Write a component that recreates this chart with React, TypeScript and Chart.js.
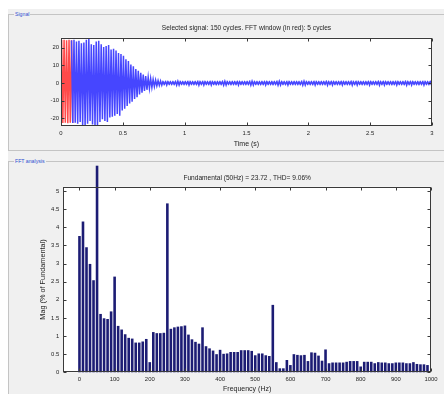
import React, { useEffect, useRef } from 'react';
import { Chart, registerables } from 'chart.js';

Chart.register(...registerables);

const SANS = "'Liberation Sans', Arial, sans-serif";

// ---------- text ----------
const signalPanelLabel = 'Signal';
const fftPanelLabel = 'FFT analysis';
const signalTitle = 'Selected signal: 150 cycles. FFT window (in red): 5 cycles';
const timeAxisTitle = 'Time (s)';
const fftTitle = 'Fundamental (50Hz) = 23.72 , THD= 9.06%';
const freqAxisTitle = 'Frequency (Hz)';
const magAxisTitle = 'Mag (% of Fundamental)';

// ---------- signal (per 50 Hz cycle: positive peak, negative peak) ----------
const cycleSeconds = 0.02;
const windowCycles = 5;
const upperPeaks = [
  24.4, 24.6, 24.3, 24.5, 24.2,
  24.5, 23.5, 24.0, 22.5, 23.0, 24.5, 25.0, 22.0, 21.5, 23.5,
  24.0, 22.0, 20.5, 21.0, 21.5, 19.0, 19.5, 18.5, 17.0, 16.5,
  15.5, 13.5, 12.5, 10.5, 9.5, 8.0, 7.0, 5.8, 4.8, 4.0,
  3.2, 2.6, 2.1, 1.7, 1.4, 1.2,
  1.1, 1.1, 1.0, 1.1, 1.1, 1.2, 1.1, 1.0, 1.1, 1.1,
  1.1, 1.0, 1.1, 1.1, 1.2, 1.1, 1.1, 1.0, 1.1, 1.1,
  1.0, 1.1, 1.1, 1.1, 1.2, 1.1, 1.0, 1.1, 1.1, 1.1,
  1.1, 1.0, 1.1, 1.1, 1.1, 1.2, 1.1, 1.0, 1.1, 1.1,
  1.1, 1.1, 1.0, 1.1, 1.1, 1.1, 1.2, 1.1, 1.0, 1.1,
  1.1, 1.0, 1.1, 1.1, 1.1, 1.1, 1.2, 1.1, 1.0, 1.1,
  1.1, 1.1, 1.0, 1.1, 1.1, 1.1, 1.2, 1.1, 1.1, 1.0,
  1.1, 1.1, 1.1, 1.0, 1.1, 1.1, 1.2, 1.1, 1.1, 1.0,
  1.1, 1.1, 1.1, 1.1, 1.0, 1.1, 1.1, 1.2, 1.1, 1.1,
  1.0, 1.1, 1.1, 1.1, 1.1, 1.0, 1.1, 1.1, 1.2, 1.1,
  1.1, 1.0, 1.1, 1.1, 1.1, 1.1, 1.0, 1.1, 1.1,
];
const lowerPeaks = [
  -22.6, -22.4, -22.7, -22.5, -22.6,
  -22.5, -23.0, -22.0, -24.0, -24.5, -23.0, -21.5, -23.5, -24.5, -24.0,
  -22.0, -20.5, -21.5, -22.0, -19.5, -19.0, -18.5, -17.5, -18.5, -15.5,
  -14.5, -13.0, -11.5, -10.5, -9.0, -8.0, -6.5, -5.5, -4.5, -3.8,
  -3.0, -2.5, -2.0, -1.6, -1.3, -1.2,
  -1.1, -1.1, -1.0, -1.1, -1.1, -1.2, -1.1, -1.0, -1.1, -1.1,
  -1.1, -1.0, -1.1, -1.1, -1.2, -1.1, -1.1, -1.0, -1.1, -1.1,
  -1.0, -1.1, -1.1, -1.1, -1.2, -1.1, -1.0, -1.1, -1.1, -1.1,
  -1.1, -1.0, -1.1, -1.1, -1.1, -1.2, -1.1, -1.0, -1.1, -1.1,
  -1.1, -1.1, -1.0, -1.1, -1.1, -1.1, -1.2, -1.1, -1.0, -1.1,
  -1.1, -1.0, -1.1, -1.1, -1.1, -1.1, -1.2, -1.1, -1.0, -1.1,
  -1.1, -1.1, -1.0, -1.1, -1.1, -1.1, -1.2, -1.1, -1.1, -1.0,
  -1.1, -1.1, -1.1, -1.0, -1.1, -1.1, -1.2, -1.1, -1.1, -1.0,
  -1.1, -1.1, -1.1, -1.1, -1.0, -1.1, -1.1, -1.2, -1.1, -1.1,
  -1.0, -1.1, -1.1, -1.1, -1.1, -1.0, -1.1, -1.1, -1.2, -1.1,
  -1.1, -1.0, -1.1, -1.1, -1.1, -1.1, -1.0, -1.1, -1.1,
];
const timeTicks = [0, 0.5, 1, 1.5, 2, 2.5, 3];
const signalTicks = [-20, -10, 0, 10, 20];

// ---------- FFT spectrum ----------
const freqHz = [
  0, 10, 20, 30, 40, 50, 60, 70, 80, 90,
  100, 110, 120, 130, 140, 150, 160, 170, 180, 190,
  200, 210, 220, 230, 240, 250, 260, 270, 280, 290,
  300, 310, 320, 330, 340, 350, 360, 370, 380, 390,
  400, 410, 420, 430, 440, 450, 460, 470, 480, 490,
  500, 510, 520, 530, 540, 550, 560, 570, 580, 590,
  600, 610, 620, 630, 640, 650, 660, 670, 680, 690,
  700, 710, 720, 730, 740, 750, 760, 770, 780, 790,
  800, 810, 820, 830, 840, 850, 860, 870, 880, 890,
  900, 910, 920, 930, 940, 950, 960, 970, 980, 990,
];
const magPct = [
  3.76, 4.16, 3.45, 2.99, 2.54, 5.70, 1.61, 1.49, 1.47, 1.68,
  2.64, 1.28, 1.18, 1.05, 0.95, 0.93, 0.82, 0.82, 0.85, 0.92,
  0.28, 1.11, 1.08, 1.08, 1.09, 4.66, 1.20, 1.24, 1.26, 1.27,
  1.29, 1.04, 0.91, 0.84, 0.79, 1.24, 0.72, 0.66, 0.60, 0.50,
  0.62, 0.51, 0.52, 0.56, 0.56, 0.56, 0.61, 0.61, 0.61, 0.59,
  0.47, 0.52, 0.52, 0.47, 0.45, 1.86, 0.28, 0.11, 0.11, 0.34,
  0.20, 0.50, 0.48, 0.47, 0.48, 0.31, 0.55, 0.54, 0.46, 0.32,
  0.63, 0.25, 0.27, 0.27, 0.27, 0.27, 0.29, 0.31, 0.31, 0.31,
  0.16, 0.29, 0.29, 0.29, 0.25, 0.28, 0.27, 0.27, 0.25, 0.25,
  0.27, 0.27, 0.27, 0.25, 0.25, 0.28, 0.23, 0.22, 0.22, 0.20,
];
const freqTicks = [0, 100, 200, 300, 400, 500, 600, 700, 800, 900, 1000];
const magTicks = [0, 0.5, 1, 1.5, 2, 2.5, 3, 3.5, 4, 4.5, 5];

// ---------- helpers ----------
const TEXT = '#1e1e1e';
const AXIS = '#3a3a3a';

const matlabAxes = {
  id: 'matlabAxes',
  beforeDatasetsDraw(chart: any) {
    const { ctx, chartArea: a } = chart;
    ctx.save();
    ctx.fillStyle = '#ffffff';
    ctx.fillRect(a.left, a.top, a.right - a.left, a.bottom - a.top);
    ctx.restore();
  },
  afterDatasetsDraw(chart: any) {
    const { ctx, chartArea: a, scales } = chart;
    const L = Math.round(a.left) + 0.5;
    const R = Math.round(a.right) - 0.5;
    const T = Math.round(a.top) + 0.5;
    const B = Math.round(a.bottom) - 0.5;
    ctx.save();
    ctx.strokeStyle = AXIS;
    ctx.lineWidth = 1;
    ctx.strokeRect(L, T, R - L, B - T);
    const len = 3;
    ctx.beginPath();
    for (const t of scales.x.ticks) {
      const px = Math.round(scales.x.getPixelForValue(t.value)) + 0.5;
      ctx.moveTo(px, B); ctx.lineTo(px, B - len);
      ctx.moveTo(px, T); ctx.lineTo(px, T + len);
    }
    for (const t of scales.y.ticks) {
      const py = Math.round(scales.y.getPixelForValue(t.value)) + 0.5;
      ctx.moveTo(L, py); ctx.lineTo(L + len, py);
      ctx.moveTo(R, py); ctx.lineTo(R - len, py);
    }
    ctx.stroke();
    ctx.restore();
  },
};

function peakPoints(from: number, to: number) {
  const pts: { x: number; y: number }[] = [];
  for (let k = from; k < to; k++) {
    pts.push({ x: k * cycleSeconds + cycleSeconds / 4, y: upperPeaks[k] });
    pts.push({ x: k * cycleSeconds + (3 * cycleSeconds) / 4, y: lowerPeaks[k] });
  }
  return pts;
}

export default function App() {
  const topRef = useRef<HTMLCanvasElement>(null);
  const botRef = useRef<HTMLCanvasElement>(null);

  useEffect(() => {
    const tickFont = { family: SANS, size: 5.9 };
    const titleFont = { family: SANS, size: 6.6, weight: 'normal' };
    const axisTitleFont = { family: SANS, size: 7 };
    const noGrid = { display: false, drawTicks: false };

    const top = new Chart(topRef.current!, {
      type: 'line',
      data: {
        datasets: [
          {
            data: peakPoints(windowCycles - 1, upperPeaks.length),
            borderColor: '#4646ff',
            borderWidth: 1.5,
            pointRadius: 0,
            tension: 0.0001,
          },
          {
            data: peakPoints(0, windowCycles),
            borderColor: '#ff4a4a',
            borderWidth: 1.5,
            pointRadius: 0,
            tension: 0.0001,
          },
        ],
      },
      options: {
        animation: false,
        responsive: false,
        devicePixelRatio: 1,
        events: [],
        layout: { padding: { left: 0, right: 12, top: 0, bottom: 0 } },
        plugins: {
          legend: { display: false },
          tooltip: { enabled: false },
          title: {
            display: true,
            fullSize: false,
            text: signalTitle,
            color: TEXT,
            font: titleFont,
            padding: { top: 24.7, bottom: 5.1 },
          },
        },
        scales: {
          x: {
            type: 'linear',
            min: 0,
            max: 3,
            offset: false,
            grid: noGrid,
            border: { display: false },
            afterBuildTicks: (s: any) => { s.ticks = timeTicks.map((v) => ({ value: v })); },
            afterFit: (s: any) => { s.height = 26; },
            ticks: { font: tickFont, color: TEXT, padding: 3.5, maxRotation: 0, autoSkip: false, callback: (v: any) => String(v) },
            title: { display: true, text: timeAxisTitle, color: TEXT, font: axisTitleFont, padding: { top: 0, bottom: 4.2 } },
          },
          y: {
            type: 'linear',
            min: -24.3,
            max: 25.7,
            grid: noGrid,
            border: { display: false },
            afterBuildTicks: (s: any) => { s.ticks = signalTicks.map((v) => ({ value: v })); },
            afterFit: (s: any) => { s.width = 61; },
            ticks: { font: tickFont, color: TEXT, padding: 2, autoSkip: false, callback: (v: any) => String(v) },
          },
        },
      },
      plugins: [matlabAxes],
    } as any);

    const bot = new Chart(botRef.current!, {
      type: 'bar',
      data: {
        datasets: [
          {
            data: freqHz.map((f, i) => ({ x: f, y: magPct[i] })),
            backgroundColor: '#1c1c74',
            borderWidth: 0,
            barPercentage: 0.74,
            categoryPercentage: 1,
            clip: false,
          },
        ],
      },
      options: {
        animation: false,
        responsive: false,
        devicePixelRatio: 1,
        events: [],
        layout: { padding: { left: 0, right: 13, top: 0, bottom: 0 } },
        plugins: {
          legend: { display: false },
          tooltip: { enabled: false },
          title: {
            display: true,
            fullSize: false,
            text: fftTitle,
            color: TEXT,
            font: titleFont,
            padding: { top: 22, bottom: 4.8 },
          },
        },
        scales: {
          x: {
            type: 'linear',
            min: -46,
            max: 1000,
            offset: false,
            grid: noGrid,
            border: { display: false },
            afterBuildTicks: (s: any) => { s.ticks = freqTicks.map((v) => ({ value: v })); },
            afterFit: (s: any) => { s.height = 21.7; },
            ticks: { font: tickFont, color: TEXT, padding: 3.5, maxRotation: 0, autoSkip: false, callback: (v: any) => String(v) },
            title: { display: true, text: freqAxisTitle, color: TEXT, font: axisTitleFont, padding: { top: 0, bottom: 0.5 } },
          },
          y: {
            type: 'linear',
            min: 0,
            max: 5.12,
            grid: noGrid,
            border: { display: false },
            afterBuildTicks: (s: any) => { s.ticks = magTicks.map((v) => ({ value: v })); },
            afterFit: (s: any) => { s.width = 63.3; },
            ticks: { font: tickFont, color: TEXT, padding: 4, autoSkip: false, callback: (v: any) => String(v) },
            title: { display: true, text: magAxisTitle, color: TEXT, font: { family: SANS, size: 7.3 }, padding: { top: 39, bottom: 0 } },
          },
        },
      },
      plugins: [matlabAxes],
    } as any);

    return () => {
      top.destroy();
      bot.destroy();
    };
  }, []);

  const panelLabel: React.CSSProperties = {
    position: 'absolute',
    fontFamily: SANS,
    fontSize: 5.2,
    color: '#2f4fd0',
    background: '#f0f0f0',
    padding: '0 1px',
    lineHeight: '7px',
  };

  return (
    <div style={{ position: 'absolute', left: 0, top: 0, width: 444, height: 394, background: '#ffffff', overflow: 'hidden' }}>
      <div style={{ position: 'absolute', left: 8, top: 9, width: 436, height: 385, background: '#f0f0f0' }} />
      <div style={{ position: 'absolute', left: 8, top: 14, width: 446, height: 137, border: '1px solid #c4c4c4', boxSizing: 'border-box' }} />
      <div style={{ position: 'absolute', left: 8, top: 161, width: 446, height: 250, border: '1px solid #c4c4c4', boxSizing: 'border-box' }} />
      <div style={{ ...panelLabel, left: 14, top: 10.5 }}>{signalPanelLabel}</div>
      <div style={{ ...panelLabel, left: 14, top: 157.5 }}>{fftPanelLabel}</div>
      <canvas ref={topRef} width={444} height={152} style={{ position: 'absolute', left: 0, top: 0, width: 444, height: 152 }} />
      <canvas ref={botRef} width={444} height={242} style={{ position: 'absolute', left: 0, top: 152, width: 444, height: 242 }} />
    </div>
  );
}
